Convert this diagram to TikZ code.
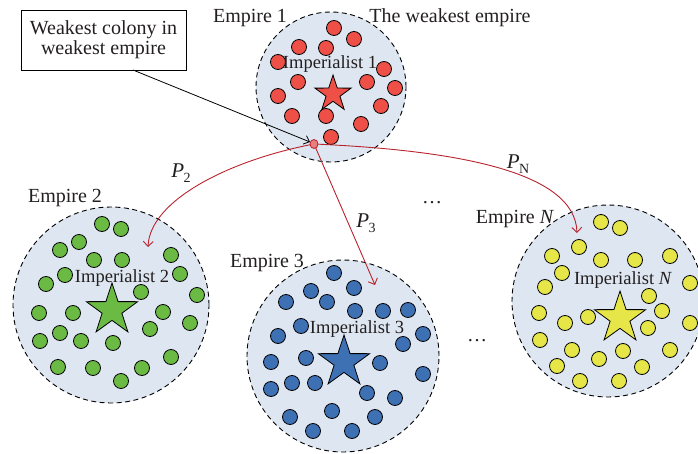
\documentclass[tikz,border=0pt]{standalone}
\usepackage{fontspec}
\setmainfont{Liberation Serif}
\usetikzlibrary{shapes.geometric,arrows.meta,calc}
\definecolor{empfill}{RGB}{222,231,241}
\definecolor{cred}{RGB}{238,80,72}
\definecolor{cgreen}{RGB}{106,186,68}
\definecolor{cblue}{RGB}{62,112,180}
\definecolor{cyellow}{RGB}{230,230,72}
\definecolor{linkred}{RGB}{185,35,45}
\definecolor{dotred}{RGB}{232,128,128}
\definecolor{txt}{RGB}{35,31,32}
\newcommand\Psub[1]{\textit{P}\kern-0.5pt\raisebox{-4.5pt}{\fontsize{14}{14}\selectfont #1}}
\begin{document}
\begin{tikzpicture}[x=1pt,y=-1pt,
  empire/.style={circle,draw=black,fill=empfill,line width=0.9pt,dash pattern=on 5pt off 3.5pt,inner sep=0pt},
  colony/.style={draw=black,line width=0.8pt},
  imp/.style={star,star points=5,star point ratio=2.6,draw=black,line width=0.8pt,inner sep=0pt},
  lbl/.style={font=\fontsize{20}{22}\selectfont,text=txt,inner sep=1pt},
  implbl/.style={font=\fontsize{18.5}{20}\selectfont,text=txt,inner sep=0pt},
  link/.style={draw=linkred,line width=0.9pt,-{Straight Barb[length=5pt,width=10pt]}}]
\useasboundingbox (0,0) rectangle (698,454);
\begin{scope}
\clip (0,0) rectangle (698,454);
% Empire 1
\node[empire,minimum size=150pt] (E1) at (331,87) {};
\foreach \p in {(334,28),(354,39),(299,47),(326,48),(278,62),(384,69),(298,82),(367,82),(395,88),(278,96),(381,106),(292,116),(326,116),(361,124),(331,137)}
  \draw[colony,fill=cred] \p circle[radius=7.5pt];
\node[imp,fill=cred,minimum size=38pt] (S1) at (333,94) {};
\node[implbl] (I1) at (330,64) {Imperialist 1};
% Empire 2
\node[empire,minimum size=196pt] (E2) at (111,305) {};
\foreach \p in {(102,224),(121,229),(79,242),(60,250),(171,255),(94,260),(122,260),(65,275),(180,274),(46,284),(141,292),(197,295),(39,313),(73,313),(163,312),(60,333),(150,329),(190,323),(40,341),(81,341),(113,343),(171,357),(58,367),(93,368),(142,368),(121,381)}
  \draw[colony,fill=cgreen] \p circle[radius=7.5pt];
\node[imp,fill=cgreen,minimum size=54pt] (S2) at (112,310) {};
\node[implbl] (I2) at (122,278) {Imperialist 2};
% Empire 3
\node[empire,minimum size=192pt] (E3) at (343,356) {};
\foreach \p in {(334,273),(311,291),(354,288),(286,302),(327,302),(355,311),(383,311),(408,310),(301,326),(278,336),(423,334),(403,344),(306,358),(380,363),(271,362),(423,374),(292,383),(315,383),(271,389),(367,393),(395,398),(332,411),(290,417),(375,417),(313,431),(352,431)}
  \draw[colony,fill=cblue] \p circle[radius=7.5pt];
\node[imp,fill=cblue,minimum size=54pt] (S3) at (344,362) {};
\node[implbl] (I3) at (357,329) {Imperialist 3};
% Empire N
\node[empire,minimum size=192pt] (EN) at (608,301) {};
\foreach \p in {(601,222),(620,228),(579,247),(552,256),(601,260),(635,260),(670,256),(562,273),(690,283),(545,287),(649,296),(539,313),(588,317),(662,311),(565,323),(648,328),(690,323),(540,340),(572,350),(623,351),(670,350),(599,359),(557,366),(642,367),(580,381),(619,381)}
  \draw[colony,fill=cyellow] \p circle[radius=7.5pt];
\node[imp,fill=cyellow,minimum size=54pt] (SN) at (620,318) {};
\node[implbl] (IN) at (623,280) {Imperialist \textit{N}};
\end{scope}
% labels
\node[lbl] (L1) at (250,18) {Empire 1};
\node[lbl] (LW) at (450,18) {The weakest empire};
\node[lbl] (L2) at (65,198) {Empire 2};
\node[lbl] (L3) at (267,263) {Empire 3};
\node[lbl] (LN) at (515,219) {Empire \textit{N}};
\node[lbl,draw=black,line width=0.8pt,align=center,minimum width=165pt,minimum height=60pt,inner sep=0pt,font=\fontsize{20}{20}\selectfont] (box) at (103.5,40) {Weakest colony in\\weakest empire};
\node[lbl] (dots1) at (432,203) {\ldots};
\node[lbl] (dots2) at (477,341) {\ldots};
% connectors
\coordinate (src) at (314,144);
\coordinate (t2) at (148,247);
\coordinate (t3) at (375,285);
\coordinate (tN) at (577,233);
\coordinate (bx) at (133,70);
\coordinate (bxend) at (310,142);
\draw[line width=0.8pt,-{Straight Barb[length=5pt,width=9pt]}] (bx) -- (bxend);
\draw[link] (src) .. controls (230,160) and (150,200) .. (t2);
\draw[link] (src) -- (t3);
\draw[link] (src) .. controls (450,150) and (575,170) .. (tN);
\node[draw=linkred,fill=dotred,ellipse,minimum width=8pt,minimum height=9pt,inner sep=0pt,line width=0.8pt] (wd) at (src) {};
\node[lbl,font=\fontsize{21}{22}\selectfont] (P2) at (181,173) {\Psub{2}};
\node[lbl,font=\fontsize{21}{22}\selectfont] (P3) at (366,223) {\Psub{3}};
\node[lbl,font=\fontsize{21}{22}\selectfont] (PN) at (518,164) {\Psub{N}};
\end{tikzpicture}
\end{document}
